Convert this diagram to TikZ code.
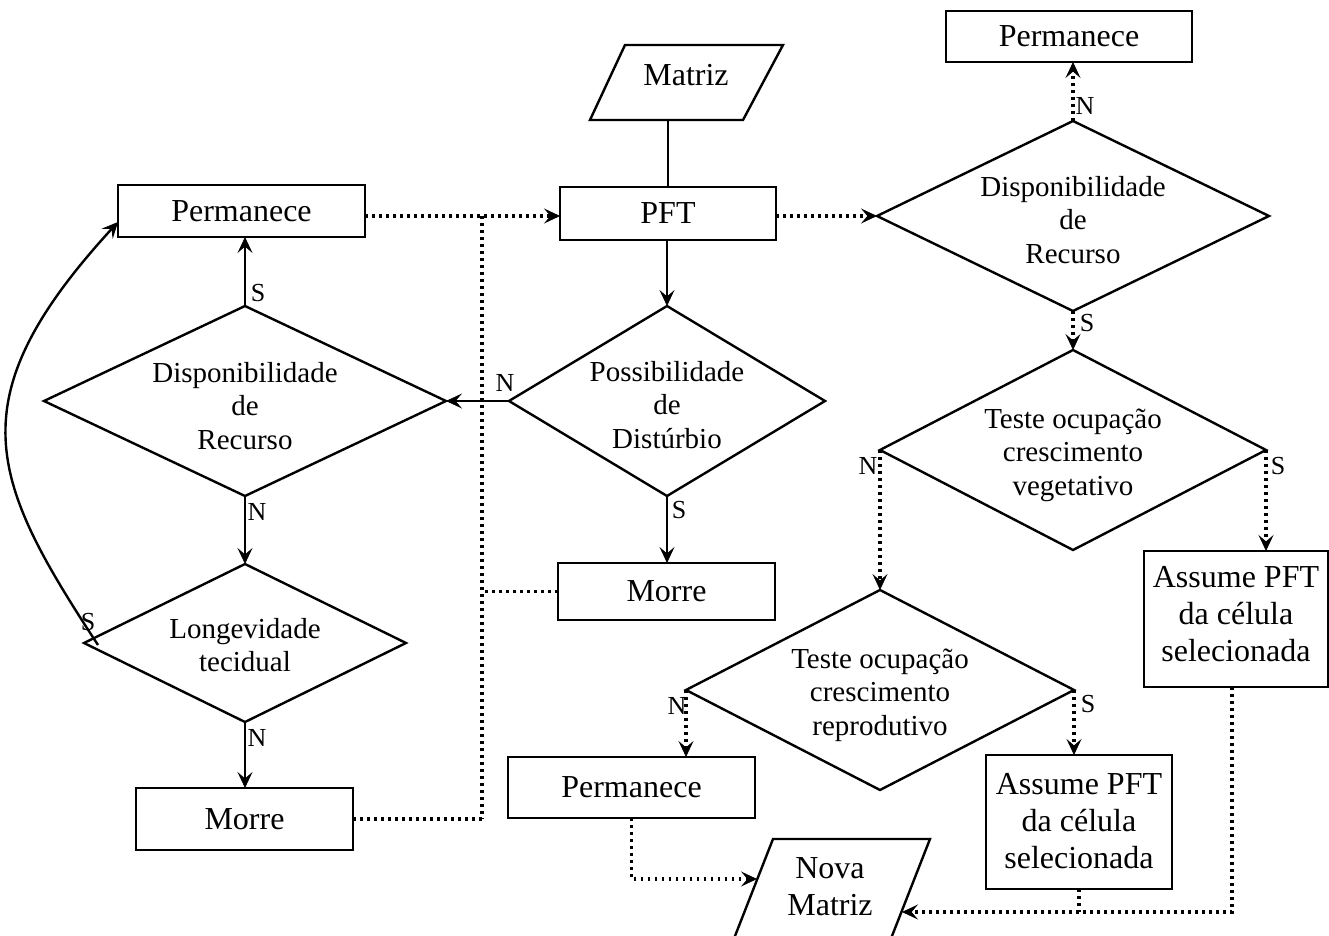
\documentclass[tikz,border=0pt]{standalone}
\usepackage{fontspec}
\setmainfont{Liberation Serif}
\usetikzlibrary{arrows.meta,shapes.geometric}
\begin{document}
\begin{tikzpicture}[x=0.5pt,y=-0.5pt,
  every node/.style={inner sep=0pt, outer sep=0pt},
  box/.style={draw, line width=1.2pt, rectangle, font=\fontsize{16pt}{18.5pt}\selectfont, align=center},
  btext/.style={font=\fontsize{16pt}{18.5pt}\selectfont, align=center},
  dia/.style={draw, line width=1.2pt, diamond, aspect=1},
  dtext/.style={font=\fontsize{14.5pt}{16.75pt}\selectfont, align=center},
  lbl/.style={font=\fontsize{13pt}{14pt}\selectfont},
  myarr/.tip={Stealth[length=8pt,width=7.5pt,inset=3.2pt,line width=0.4pt]},
  sol/.style={line width=1.2pt, -{myarr}},
  dot/.style={line width=1.8pt, dash pattern=on 1.4pt off 2.1pt},
  dotarr/.style={dot, -{myarr}},
]
\useasboundingbox (0,0) rectangle (1329,936);

% boxes
\node[box, minimum width=123.5pt, minimum height=26pt] (PermL) at (241.5,211) {Permanece};
\node[box, minimum width=108pt, minimum height=26.5pt] (PFT) at (668,213.5) {PFT};
\node[box, minimum width=108.5pt, minimum height=28.5pt] (MorreC) at (666.5,591.5) {Morre};
\node[box, minimum width=108.5pt, minimum height=31pt] (MorreL) at (244.5,819) {Morre};
\node[box, minimum width=123pt, minimum height=25.5pt] (PermR) at (1069,36.5) {Permanece};
\node[box, minimum width=123.5pt, minimum height=30.5pt] (PermB) at (631.5,787.5) {Permanece};
\node[box, minimum width=92pt, minimum height=68pt] (AssR) at (1236,619) {};
\node[btext] (AssRt) at (1236,614) {Assume PFT\\da célula\\selecionada};
\node[box, minimum width=93pt, minimum height=67pt] (AssC) at (1079,822) {};
\node[btext] (AssCt) at (1079,821) {Assume PFT\\da célula\\selecionada};

% diamonds
\node[dia, minimum width=201pt, minimum height=95pt] (DispL) at (245,401) {};
\node[dtext] (DispLt) at (245,406) {Disponibilidade\\de\\Recurso};
\node[dia, minimum width=161pt, minimum height=79pt] (Longev) at (245,643) {};
\node[dtext] (Longevt) at (245,645) {Longevidade\\tecidual};
\node[dia, minimum width=158pt, minimum height=95pt] (Poss) at (667,401) {};
\node[dtext] (Posst) at (667,405) {Possibilidade\\de\\Distúrbio};
\node[dia, minimum width=196pt, minimum height=95pt] (DispR) at (1073,216) {};
\node[dtext] (DispRt) at (1073,220) {Disponibilidade\\de\\Recurso};
\node[dia, minimum width=193pt, minimum height=100pt] (Veg) at (1073,450) {};
\node[dtext] (Vegt) at (1073,455) {Teste ocupação\\crescimento\\vegetativo};
\node[dia, minimum width=194pt, minimum height=100pt] (Rep) at (880,690) {};
\node[dtext] (Rept) at (880,695) {Teste ocupação\\crescimento\\reprodutivo};

% parallelograms
\draw[line width=1.2pt] (625,45) -- (783,45) -- (743,120) -- (590,120) -- cycle;
\node[btext] (Mat) at (686,75) {Matriz};
\coordinate (MatB) at (668,120);
\draw[line width=1.2pt] (725.6,960) -- (773,839) -- (930,839) -- (882.6,960) -- cycle;
\node[btext] (NMt) at (830,887) {Nova\\Matriz};
\coordinate (NMl) at (757,879);
\coordinate (NMr) at (902,912);

% solid connectors
\draw[line width=1.2pt] (MatB) -- (MatB |- PFT.north);
\draw[sol] (PFT.south -| Poss.north) -- (Poss.north);
\draw[sol] (Poss.west) -- (DispL.east);
\draw[sol] (DispL.north) -- (DispL.north |- PermL.south);
\draw[sol] (DispL.south) -- (Longev.north);
\draw[sol] (Longev.south) -- (Longev.south |- MorreL.north);
\draw[sol] (Poss.south) -- (Poss.south |- MorreC.north);
\coordinate (Cs) at (98,645);
\draw[sol] (Cs) .. controls (-10,480) and (-45,400) .. ([yshift=-5.5pt]PermL.west);

% dotted connectors
\coordinate (J1) at (482,216);
\coordinate (J2) at (482,819);
\draw[dotarr] (PermL.east |- J1) -- (PFT.west |- J1);
\draw[dot] (J1) -- (J2);
\draw[dot] (MorreL.east) -- (J2);
\draw[dot] (MorreC.west) -- (MorreC.west -| J1);
\draw[dotarr] (PFT.east |- J1) -- (DispR.west);
\draw[dotarr] (DispR.north) -- (DispR.north |- PermR.south);
\draw[dotarr] (DispR.south) -- (Veg.north);
\draw[dotarr] (Veg.west) -- (Rep.north);
\draw[dotarr] (Veg.east) -- (Veg.east |- AssR.north);
\draw[dotarr] (Rep.west) -- (Rep.west |- PermB.north);
\draw[dotarr] (Rep.east) -- (Rep.east |- AssC.north);
\draw[dotarr] (PermB.south) |- (NMl);
\draw[dotarr] ([xshift=-2pt]AssR.south) |- (NMr);
\draw[dot] (AssC.south) -- (AssC.south |- NMr);

% labels
\node[lbl] (l1) at (258,293) {S};
\node[lbl] (l2) at (257,512) {N};
\node[lbl] (l3) at (88,622) {S};
\node[lbl] (l4) at (257,738) {N};
\node[lbl] (l5) at (505,383) {N};
\node[lbl] (l6) at (679,510) {S};
\node[lbl] (l7) at (1085,106) {N};
\node[lbl] (l8) at (1087,323) {S};
\node[lbl] (l9) at (868,466) {N};
\node[lbl] (l10) at (1278,466) {S};
\node[lbl] (l11) at (677,706) {N};
\node[lbl] (l12) at (1088,704) {S};
\end{tikzpicture}
\end{document}
